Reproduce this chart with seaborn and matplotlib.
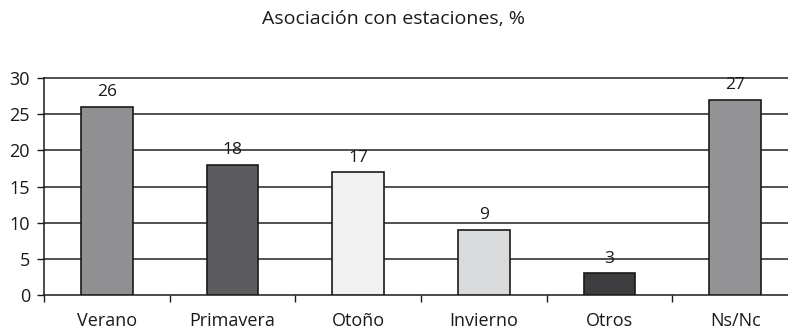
import matplotlib
matplotlib.use("Agg")
import matplotlib.pyplot as plt
import seaborn as sns
import pandas as pd

categorias = ["Verano", "Primavera", "Otoño", "Invierno", "Otros", "Ns/Nc"]
valores = [26, 18, 17, 9, 3, 27]
colores = ["#8f9094", "#5b5b5f", "#f1f1f1", "#d9dadc", "#3d3d3f", "#929397"]
titulo = "Asociación con estaciones, %"

sns.set_theme(style="white")
plt.rcParams["font.family"] = ["Open Sans", "DejaVu Sans"]

df = pd.DataFrame({"categoria": categorias, "valor": valores})

fig = plt.figure(figsize=(7.88, 3.33), dpi=100)
ax = fig.add_axes([44 / 788, 1 - 295 / 333, 1 - 44 / 788, (295 - 78) / 333])

sns.barplot(data=df, x="categoria", y="valor", hue="categoria",
            palette=dict(zip(categorias, colores)), order=categorias,
            width=0.41, edgecolor="#1a1a1a", linewidth=1.2, legend=False,
            ax=ax, zorder=3)

ax.set_yticks(range(0, 31, 5))
for y in range(5, 31, 5):
    ax.axhline(y, color="#333333", linewidth=1.2, zorder=1, clip_on=False)

for i, v in enumerate(valores):
    ax.text(i, v + 0.9, str(v), ha="center", va="bottom", fontsize=12.5,
            color="#1a1a1a")

ax.set_xlabel("")
ax.set_ylabel("")
ax.set_xticks(range(len(categorias)))
ax.set_xticklabels(categorias)
ax.tick_params(axis="x", length=0, pad=12, labelsize=13, colors="#1a1a1a")
ax.tick_params(axis="y", left=True, length=5, width=1, pad=5, labelsize=13,
               colors="#1a1a1a")

# minor ticks between categories on the x axis
ax.set_xticks([i - 0.5 for i in range(len(categorias) + 1)], minor=True)
ax.tick_params(axis="x", which="minor", bottom=True, length=5, width=1,
               color="#1a1a1a")

# limits last, so the tick setters cannot widen them
ax.set_ylim(0, 30)
ax.set_xlim(-0.5, 5.42)

for s in ["top", "right"]:
    ax.spines[s].set_visible(False)
for s in ["left", "bottom"]:
    ax.spines[s].set_color("#1a1a1a")
    ax.spines[s].set_linewidth(1.1)

fig.text(394 / 788, 1 - 19 / 333, titulo, ha="center", va="center",
         fontsize=14, color="#1a1a1a")

fig.savefig("out.png", dpi=100)
